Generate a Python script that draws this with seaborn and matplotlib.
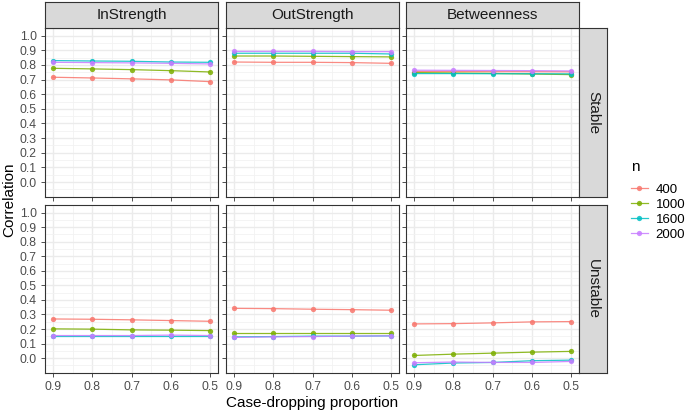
import matplotlib
matplotlib.use("Agg")

import matplotlib.pyplot as plt
import seaborn as sns
import pandas as pd
from matplotlib.lines import Line2D

# --- data ---
props = [0.9, 0.8, 0.7, 0.6, 0.5]
n_levels = ["400", "1000", "1600", "2000"]
measures = ["InStrength", "OutStrength", "Betweenness"]
conditions = ["Stable", "Unstable"]

stable_instrength = {
    "400":  [0.716, 0.711, 0.705, 0.698, 0.686],
    "1000": [0.777, 0.773, 0.768, 0.761, 0.752],
    "1600": [0.830, 0.827, 0.825, 0.820, 0.818],
    "2000": [0.818, 0.816, 0.814, 0.811, 0.807],
}
stable_outstrength = {
    "400":  [0.820, 0.818, 0.818, 0.816, 0.811],
    "1000": [0.861, 0.861, 0.859, 0.857, 0.855],
    "1600": [0.880, 0.880, 0.880, 0.880, 0.875],
    "2000": [0.893, 0.893, 0.893, 0.891, 0.891],
}
stable_betweenness = {
    "400":  [0.755, 0.755, 0.754, 0.754, 0.753],
    "1000": [0.748, 0.745, 0.742, 0.738, 0.734],
    "1600": [0.741, 0.741, 0.740, 0.740, 0.739],
    "2000": [0.764, 0.763, 0.762, 0.761, 0.759],
}
unstable_instrength = {
    "400":  [0.269, 0.267, 0.263, 0.258, 0.253],
    "1000": [0.201, 0.199, 0.194, 0.192, 0.189],
    "1600": [0.151, 0.151, 0.151, 0.151, 0.151],
    "2000": [0.155, 0.155, 0.155, 0.158, 0.155],
}
unstable_outstrength = {
    "400":  [0.342, 0.340, 0.336, 0.333, 0.329],
    "1000": [0.171, 0.171, 0.171, 0.171, 0.171],
    "1600": [0.146, 0.148, 0.151, 0.151, 0.153],
    "2000": [0.142, 0.146, 0.148, 0.151, 0.153],
}
unstable_betweenness = {
    "400":  [0.235, 0.237, 0.242, 0.249, 0.251],
    "1000": [0.018, 0.027, 0.034, 0.041, 0.046],
    "1600": [-0.046, -0.034, -0.030, -0.018, -0.014],
    "2000": [-0.032, -0.027, -0.030, -0.030, -0.023],
}

tables = {
    ("Stable", "InStrength"): stable_instrength,
    ("Stable", "OutStrength"): stable_outstrength,
    ("Stable", "Betweenness"): stable_betweenness,
    ("Unstable", "InStrength"): unstable_instrength,
    ("Unstable", "OutStrength"): unstable_outstrength,
    ("Unstable", "Betweenness"): unstable_betweenness,
}

rows = []
for (cond, meas), tab in tables.items():
    for n in n_levels:
        for p, v in zip(props, tab[n]):
            rows.append({"condition": cond, "measure": meas, "n": n,
                         "prop": p, "cor": v})
df = pd.DataFrame(rows)

palette = {"400": "#F8766D", "1000": "#7CAE00", "1600": "#00BFC4", "2000": "#C77CFF"}

plt.rcParams["font.family"] = ["Liberation Sans", "DejaVu Sans"]

W, H = 685, 413
fig = plt.figure(figsize=(W / 100, H / 100), dpi=100)

# panel boxes in pixels (left, right) and (top, bottom)
cols_px = [(45, 218), (226, 399), (406, 579)]
rows_px = [(28, 197), (205, 373)]

def box(x0, x1, y0, y1):
    return [x0 / W, 1 - y1 / H, (x1 - x0) / W, (y1 - y0) / H]

def strip(rect, label, rot=0):
    sax = fig.add_axes(rect)
    sax.set_facecolor("#D9D9D9")
    sax.set_xticks([])
    sax.set_yticks([])
    for s in sax.spines.values():
        s.set_color("#333333")
        s.set_linewidth(0.8)
    sax.text(0.5, 0.5, label, ha="center", va="center", fontsize=11,
             color="#1A1A1A", rotation=rot, transform=sax.transAxes)

major_y = [i / 10 for i in range(11)]
minor_y = [-0.05 + i / 10 for i in range(11)]
minor_x = [0.85, 0.75, 0.65, 0.55]

for r, cond in enumerate(conditions):
    for c, meas in enumerate(measures):
        x0, x1 = cols_px[c]
        y0, y1 = rows_px[r]
        ax = fig.add_axes(box(x0, x1, y0, y1))
        ax.set_facecolor("white")
        sub = df[(df.condition == cond) & (df.measure == meas)]
        sns.lineplot(data=sub, x="prop", y="cor", hue="n", hue_order=n_levels,
                     palette=palette, marker="o", markersize=3.8,
                     markeredgewidth=0, linewidth=0.9, alpha=0.85,
                     legend=False, ax=ax, zorder=3)
        ax.set_xlim(0.92, 0.48)
        ax.set_ylim(-0.1025, 1.0525)
        ax.set_xticks(props)
        ax.set_xticks(minor_x, minor=True)
        ax.set_yticks(major_y)
        ax.set_yticks(minor_y, minor=True)
        ax.grid(True, which="major", color="#EBEBEB", linewidth=1.0, zorder=0)
        ax.grid(True, which="minor", color="#F2F2F2", linewidth=0.6, zorder=0)
        ax.set_axisbelow(True)
        for s in ax.spines.values():
            s.set_color("#333333")
            s.set_linewidth(0.8)
        ax.tick_params(which="minor", length=0)
        ax.tick_params(which="major", length=3, width=0.6, color="#333333",
                       labelsize=8.8, labelcolor="#4D4D4D", pad=3)
        if r == 1:
            ax.set_xticklabels([f"{p:.1f}" for p in props])
        else:
            ax.tick_params(axis="x", labelbottom=False)
        if c == 0:
            ax.set_yticklabels([f"{v:.1f}" for v in major_y])
        else:
            ax.tick_params(axis="y", labelleft=False)
        ax.set_xlabel("")
        ax.set_ylabel("")

        if r == 0:
            strip(box(x0, x1, 2, 28), meas)
        if c == 2:
            strip(box(579, 607, y0, y1), cond, rot=-90)

# axis titles
fig.text((45 + 579) / 2 / W, 1 - 403 / H, "Case-dropping proportion",
         ha="center", va="center", fontsize=11)
fig.text(9 / W, 1 - 200 / H, "Correlation", ha="center", va="center",
         rotation=90, fontsize=11)

# legend
handles = [Line2D([0], [0], color=palette[n], marker="o", markersize=3.8,
                  markeredgewidth=0, linewidth=0.9, alpha=0.85) for n in n_levels]
leg = fig.legend(handles, n_levels, title="n", loc="upper left",
                 bbox_to_anchor=(628 / W, 1 - 157 / H), frameon=False,
                 fontsize=9.5, title_fontsize=11, handlelength=1.3,
                 handletextpad=0.6, labelspacing=0.22, borderaxespad=0,
                 borderpad=0.2)
leg._legend_box.align = "left"
leg._legend_box.sep = 7

fig.savefig("out.png", dpi=100)
plt.close()
